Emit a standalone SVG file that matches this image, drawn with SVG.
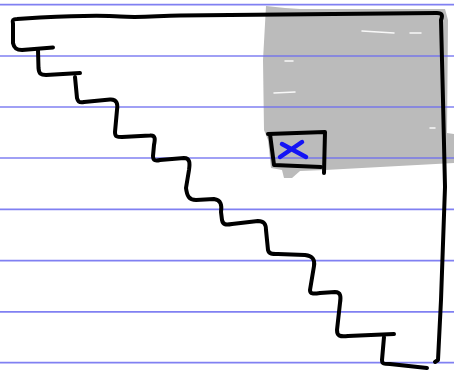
<svg xmlns="http://www.w3.org/2000/svg" width="454" height="374" viewBox="0 0 454 374">
<style>
.rule{stroke:#6b6bf0;stroke-width:1.7;opacity:0.85}
.ink{fill:none;stroke:#000;stroke-width:4;stroke-linecap:round;stroke-linejoin:round}
.blue{fill:none;stroke:#1414f5;stroke-width:4.5;stroke-linecap:round}
.streak{fill:none;stroke:#fff;stroke-width:1.5;stroke-linecap:round;opacity:0.9}
</style>
<rect width="454" height="374" fill="#fff"/>
<g id="shade">
<path d="M266,6 L285,8 L300,9 L445,9 L448,20 L447,133 L454,134 L454,163 L325,170 L300,171 L292,178 L284,178 L282,170 L271,168 L268,140 L264,130 L263,60 Z" fill="#bbbbbb"/>
<path class="streak" d="M362,31 L394,33 M410,33 L421,33 M285,61 L293,61 M274,93 L295,92 M430,128 L435,128"/>
</g>
<g id="rules">
<line class="rule" x1="0" y1="4.7" x2="454" y2="4.7"/>
<line class="rule" x1="0" y1="56" x2="454" y2="56"/>
<line class="rule" x1="0" y1="107" x2="454" y2="107"/>
<line class="rule" x1="0" y1="158" x2="454" y2="158"/>
<line class="rule" x1="0" y1="209.4" x2="454" y2="209.4"/>
<line class="rule" x1="0" y1="260.6" x2="454" y2="260.6"/>
<line class="rule" x1="0" y1="311.8" x2="454" y2="311.8"/>
<line class="rule" x1="0" y1="362.6" x2="454" y2="362.6"/>
</g>
<g id="outline">
<path class="ink" d="M13,24 C12,20 13,19 17,19 L40,17.5 C70,16 100,15 120,16.5 C140,18 155,16 180,15.5 L230,15 C300,14 370,13 437,13 C442,13 443,15 441,20 L443,100 L445,187 L441,300 L438,360 L435,362"/>
<path class="ink" d="M13,24 L13,43 C14,48 16,50 22,50 L53,47.5"/>
<path class="ink" d="M38,50 L38.5,68 C39,74 41,75 46,75 L80,73"/>
<path class="ink" d="M75,77 L77,98 C78,102 80,103 84,102 L110,99.5 C117,99 118,104 117,110 L115,132 C115,137 117,137 122,137 L150,135.5 C156,135 155,140 154,145 L153,156 C153,161 156,161 160,160 L184,158 C190,158 190,163 189,170 L186,188 C187,196 189,200 196,200 L214,199 C221,200 222,205 221,212 L222,220 C223,225 226,225 232,224 L258,221 C264,221 266,224 266,230 L268,250 C269,254 272,254 278,254 L305,255 C313,256 315,260 314,266 L310,290 C310,294 313,294 320,293 L335,292 C341,292 341,297 340,303 L337,330 C337,336 340,337 348,336 L394,334"/>
<path class="ink" d="M384,337 L382,360 C382,364 384,364 390,364 L427,368"/>
</g>
<g id="box">
<path class="ink" d="M268,134 L325,132 L324,173"/>
<path class="ink" d="M270,134 L274,165 L321,167"/>
<path class="blue" d="M282,144 L306,157 M302,142 L280,157"/>
</g>
</svg>
